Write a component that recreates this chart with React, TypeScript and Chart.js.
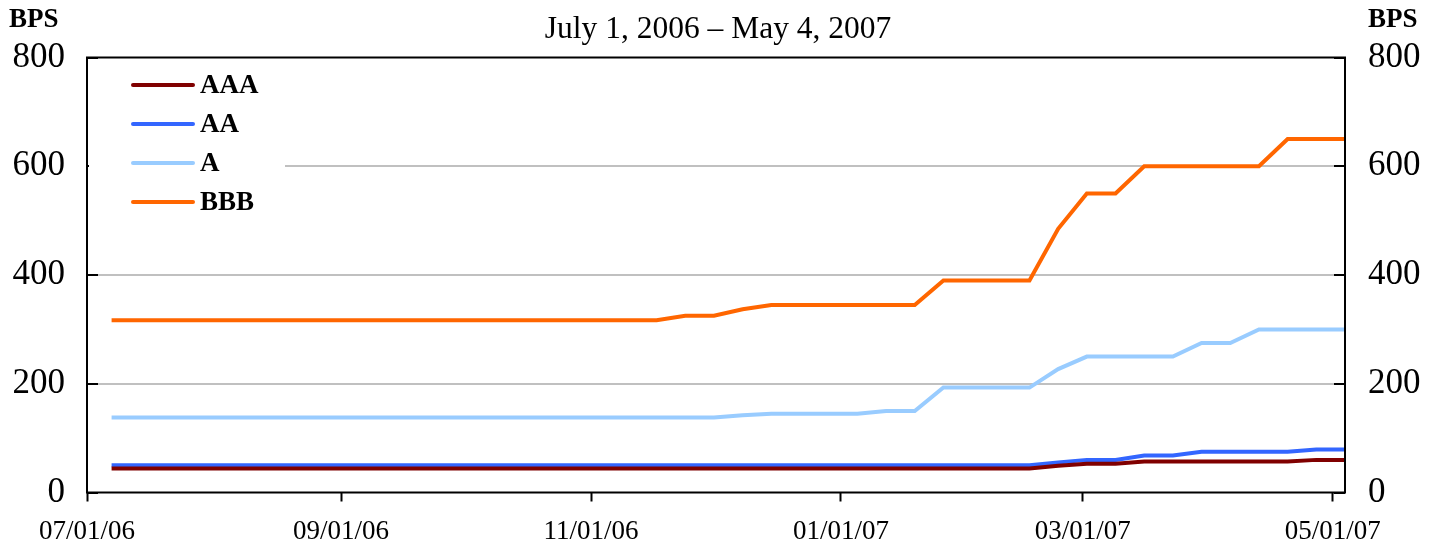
import React, { useEffect, useRef } from 'react';
import { Chart, registerables } from 'chart.js';

Chart.register(...registerables);

// Weekly observation dates (Fridays)
const weekDates = [
  '2006-07-07', '2006-07-14', '2006-07-21', '2006-07-28',
  '2006-08-04', '2006-08-11', '2006-08-18', '2006-08-25',
  '2006-09-01', '2006-09-08', '2006-09-15', '2006-09-22', '2006-09-29',
  '2006-10-06', '2006-10-13', '2006-10-20', '2006-10-27',
  '2006-11-03', '2006-11-10', '2006-11-17', '2006-11-24',
  '2006-12-01', '2006-12-08', '2006-12-15', '2006-12-22', '2006-12-29',
  '2007-01-05', '2007-01-12', '2007-01-19', '2007-01-26',
  '2007-02-02', '2007-02-09', '2007-02-16', '2007-02-23',
  '2007-03-02', '2007-03-09', '2007-03-16', '2007-03-23', '2007-03-30',
  '2007-04-06', '2007-04-13', '2007-04-20', '2007-04-27',
  '2007-05-04',
];

const aaaValues = [
  44, 44, 44, 44, 44, 44, 44, 44, 44, 44, 44, 44, 44, 44, 44, 44, 44, 44, 44, 44,
  44, 44, 44, 44, 44, 44, 44, 44, 44, 44, 44, 44, 44,
  49, 53, 53, 57, 57, 57, 57, 57, 57, 60, 60,
];
const aaValues = [
  50, 50, 50, 50, 50, 50, 50, 50, 50, 50, 50, 50, 50, 50, 50, 50, 50, 50, 50, 50,
  50, 50, 50, 50, 50, 50, 50, 50, 50, 50, 50, 50, 50,
  55, 60, 60, 68, 68, 75, 75, 75, 75, 79, 79,
];
const aValues = [
  138, 138, 138, 138, 138, 138, 138, 138, 138, 138, 138, 138, 138, 138, 138, 138, 138, 138, 138, 138,
  138, 138, 142, 145, 145, 145, 145, 150, 150, 193, 193, 193, 193,
  227, 250, 250, 250, 250, 275, 275, 300, 300, 300, 300,
];
const bbbValues = [
  317, 317, 317, 317, 317, 317, 317, 317, 317, 317, 317, 317, 317, 317, 317, 317, 317, 317, 317, 317,
  325, 325, 337, 345, 345, 345, 345, 345, 345, 390, 390, 390, 390,
  485, 550, 550, 600, 600, 600, 600, 600, 650, 650, 650,
];

const seriesNames = ['AAA', 'AA', 'A', 'BBB'];
const seriesColors = ['#800000', '#3366FF', '#99CCFF', '#FF6600'];

const xTickDates = ['2006-07-01', '2006-09-01', '2006-11-01', '2007-01-01', '2007-03-01', '2007-05-01'];
const xTickLabels = ['07/01/06', '09/01/06', '11/01/06', '01/01/07', '03/01/07', '05/01/07'];
const yTickValues = [0, 200, 400, 600, 800];

const startDate = '2006-07-01';
const endDate = '2007-05-04';
const titleText = 'July 1, 2006 – May 4, 2007';
const unitText = 'BPS';

const FONT = "'Liberation Serif', 'Times New Roman', serif";

function dayOf(s: string): number {
  const [y, m, d] = s.split('-').map(Number);
  const [y0, m0, d0] = startDate.split('-').map(Number);
  return (Date.UTC(y, m - 1, d) - Date.UTC(y0, m0 - 1, d0)) / 86400000;
}

const decoPlugin = {
  id: 'deco',
  afterDraw(chart: any) {
    const { ctx, chartArea: a, scales } = chart;
    ctx.save();
    // frame
    ctx.strokeStyle = '#000';
    ctx.lineWidth = 2;
    ctx.strokeRect(a.left, a.top, a.right - a.left, a.bottom - a.top);
    // inward y ticks
    for (const v of yTickValues) {
      const y = Math.round(scales.y.getPixelForValue(v));
      ctx.beginPath();
      ctx.moveTo(a.left, y);
      ctx.lineTo(a.left + 11, y);
      ctx.moveTo(a.right - 11, y);
      ctx.lineTo(a.right, y);
      ctx.stroke();
    }
    // legend
    ctx.fillStyle = '#fff';
    ctx.fillRect(a.left + 2, a.top + 6, 196, 160);
    const ds = chart.data.datasets;
    ds.forEach((d: any, i: number) => {
      const y = a.top + 27.5 + i * 39;
      ctx.strokeStyle = d.borderColor;
      ctx.lineWidth = 4;
      ctx.lineCap = 'round';
      ctx.beginPath();
      ctx.moveTo(a.left + 46, y);
      ctx.lineTo(a.left + 106, y);
      ctx.stroke();
      ctx.fillStyle = '#000';
      ctx.font = `bold 27px ${FONT}`;
      ctx.textAlign = 'left';
      ctx.textBaseline = 'middle';
      ctx.fillText(d.label, a.left + 113, y + 1);
    });
    // title
    ctx.fillStyle = '#000';
    ctx.font = `31.5px ${FONT}`;
    ctx.textAlign = 'center';
    ctx.textBaseline = 'middle';
    ctx.fillText(titleText, 718, 30);
    // unit labels
    ctx.font = `bold 27px ${FONT}`;
    ctx.textAlign = 'left';
    ctx.fillText(unitText, 9, 20);
    ctx.fillText(unitText, 1368, 20);
    ctx.restore();
  },
};

export default function App() {
  const ref = useRef<HTMLCanvasElement | null>(null);

  useEffect(() => {
    if (!ref.current) return;
    const series = [aaaValues, aaValues, aValues, bbbValues];
    const chart = new Chart(ref.current, {
      type: 'line',
      data: {
        datasets: series.map((vals, i) => ({
          label: seriesNames[i],
          data: weekDates.map((d, j) => ({ x: dayOf(d), y: vals[j] })),
          borderColor: seriesColors[i],
          backgroundColor: seriesColors[i],
          borderWidth: 4,
          pointRadius: 0,
          tension: 0,
          fill: false,
        })),
      },
      options: {
        animation: false,
        responsive: false,
        devicePixelRatio: 1,
        layout: { padding: { top: 57.5, bottom: 0, left: 0, right: 0 } },
        plugins: {
          legend: { display: false },
          title: { display: false },
          tooltip: { enabled: false },
        },
        scales: {
          x: {
            type: 'linear',
            min: 0,
            max: dayOf(endDate),
            afterBuildTicks: (s: any) => {
              s.ticks = xTickDates.map((d) => ({ value: dayOf(d) }));
            },
            afterFit: (s: any) => {
              s.height = 57.5;
            },
            ticks: {
              autoSkip: false,
              maxRotation: 0,
              minRotation: 0,
              padding: 14,
              color: '#000',
              font: { family: FONT, size: 27 },
              callback: (v: any) => {
                const idx = xTickDates.findIndex((d) => dayOf(d) === v);
                return idx >= 0 ? xTickLabels[idx] : '';
              },
            },
            grid: {
              drawOnChartArea: false,
              drawTicks: true,
              tickLength: 9,
              tickColor: '#000',
              tickWidth: 2,
            },
            border: { display: false },
          },
          y: {
            position: 'left',
            min: 0,
            max: 800,
            afterBuildTicks: (s: any) => {
              s.ticks = yTickValues.map((v) => ({ value: v }));
            },
            afterFit: (s: any) => {
              s.width = 87;
            },
            ticks: {
              padding: 22,
              color: '#000',
              font: { family: FONT, size: 35 },
            },
            grid: {
              drawTicks: false,
              lineWidth: 2,
              color: (c: any) =>
                c.tick && (c.tick.value === 0 || c.tick.value === 800) ? 'rgba(0,0,0,0)' : '#C0C0C0',
            },
            border: { display: false },
          },
          y2: {
            position: 'right',
            min: 0,
            max: 800,
            afterBuildTicks: (s: any) => {
              s.ticks = yTickValues.map((v) => ({ value: v }));
            },
            afterFit: (s: any) => {
              s.width = 94;
            },
            ticks: {
              padding: 23,
              color: '#000',
              font: { family: FONT, size: 35 },
            },
            grid: { display: false, drawTicks: false },
            border: { display: false },
          },
        },
      },
      plugins: [decoPlugin],
    } as any);
    return () => chart.destroy();
  }, []);

  return (
    <div style={{ position: 'fixed', left: 0, top: 0, width: 1439, height: 550, background: '#fff' }}>
      <canvas ref={ref} width={1439} height={550} />
    </div>
  );
}
